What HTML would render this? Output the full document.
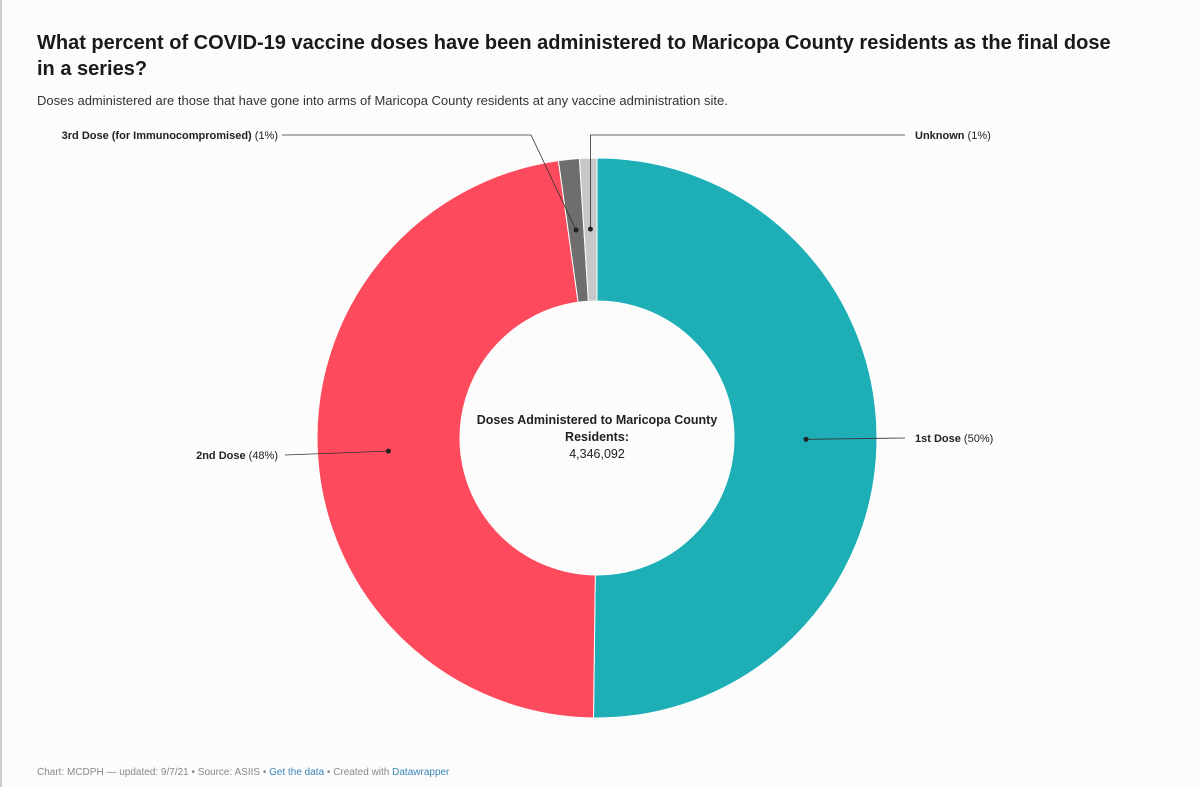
<!DOCTYPE html>
<html><head><meta charset="utf-8"><style>
body{margin:0;background:#fff;font-family:"Liberation Sans",sans-serif;}
#wrap{position:relative;width:1200px;height:787px;background:#fcfcfc;overflow:hidden;}
#lb{position:absolute;left:0;top:0;width:2px;height:787px;background:#ccc;}
h1{position:absolute;left:37px;top:30px;margin:0;width:1090px;font-size:20px;line-height:26px;font-weight:bold;color:#1a1a1a;}
.sub{position:absolute;left:37px;top:93px;font-size:13px;color:#333;}
.foot{position:absolute;left:37px;top:767px;font-size:10px;color:#888;}
.foot a{color:#3a86b8;text-decoration:none;}
svg{position:absolute;left:0;top:0;}
</style></head><body>
<div id="wrap">
<div id="lb"></div>
<h1>What percent of COVID-19 vaccine doses have been administered to Maricopa County residents as the final dose in a series?</h1>
<div class="sub">Doses administered are those that have gone into arms of Maricopa County residents at any vaccine administration site.</div>
<svg id="chart" width="1200" height="787"></svg>
<div class="foot">Chart: MCDPH — updated: 9/7/21 • Source: ASIIS • <a>Get the data</a> • Created with <a>Datawrapper</a></div>
</div>
<script>
const categories=["1st Dose","2nd Dose","3rd Dose (for Immunocompromised)","Unknown"];
const values=[50.2,47.6,1.2,1.0];
const printed=["50%","48%","1%","1%"];
const colors=["#1eaeb6","#fd4a5c","#6e6e6e","#c8c8c8"];
const NS="http://www.w3.org/2000/svg";
const svg=document.getElementById('chart');
const cx=597,cy=438,R=280,r=137;
const total=values.reduce((a,b)=>a+b,0);
function pt(a,rad){return [cx+rad*Math.sin(a),cy-rad*Math.cos(a)];}
function mk(t,at){const e=document.createElementNS(NS,t);for(const k in at)e.setAttribute(k,at[k]);svg.appendChild(e);return e;}
let acc=0;const mids=[];
values.forEach((v,i)=>{
  const a0=acc/total*2*Math.PI;acc+=v;const a1=acc/total*2*Math.PI;
  const large=(a1-a0)>Math.PI?1:0;
  const p0=pt(a0,R),p1=pt(a1,R),q1=pt(a1,r),q0=pt(a0,r);
  const p=mk('path',{d:`M${p0}A${R},${R} 0 ${large} 1 ${p1}L${q1}A${r},${r} 0 ${large} 0 ${q0}Z`,fill:colors[i],stroke:'#fff','stroke-width':1});
  
  
  mids.push((a0+a1)/2);
});
const labelCfg=[
 {side:'r',ly:438},{side:'l',ly:455},{side:'l',ly:135},{side:'r',ly:135}
];
categories.forEach((c,i)=>{
  const m=mids[i];
  const d=pt(m,209);
  const cfg=labelCfg[i];
  let path;
  if(i<2){
    const ex=cfg.side==='r'?905:285;
    path=`M${d}L${ex},${cfg.ly}`;
  }else if(cfg.side==='l'){
    path=`M${d}L${d[0]-45},${cfg.ly}L282,${cfg.ly}`;
  }else{
    path=`M${d}L${d[0]},${cfg.ly}L905,${cfg.ly}`;
  }
  const ln=mk('path',{d:path,fill:'none',stroke:'#333','stroke-width':0.8});
  
  
  const dot=mk('circle',{cx:d[0],cy:d[1],r:2.5,fill:'#222'});
  
  
  const t=mk('text',{x:cfg.side==='r'?915:278,y:cfg.ly+4,'font-size':11,fill:'#222','text-anchor':cfg.side==='r'?'start':'end'});
  t.innerHTML=`<tspan font-weight="bold">${c}</tspan> (${printed[i]})`;
  
  
});
const ct=mk('text',{x:cx,y:424,'font-size':12.5,'font-weight':'bold','text-anchor':'middle',fill:'#222'});
ct.textContent='Doses Administered to Maricopa County';


const ct2=mk('text',{x:cx,y:441,'font-size':12.5,'font-weight':'bold','text-anchor':'middle',fill:'#222'});
ct2.textContent='Residents:';


const cv=mk('text',{x:cx,y:458,'font-size':12.5,'text-anchor':'middle',fill:'#222'});
cv.textContent='4,346,092';


</script>
</body></html>
